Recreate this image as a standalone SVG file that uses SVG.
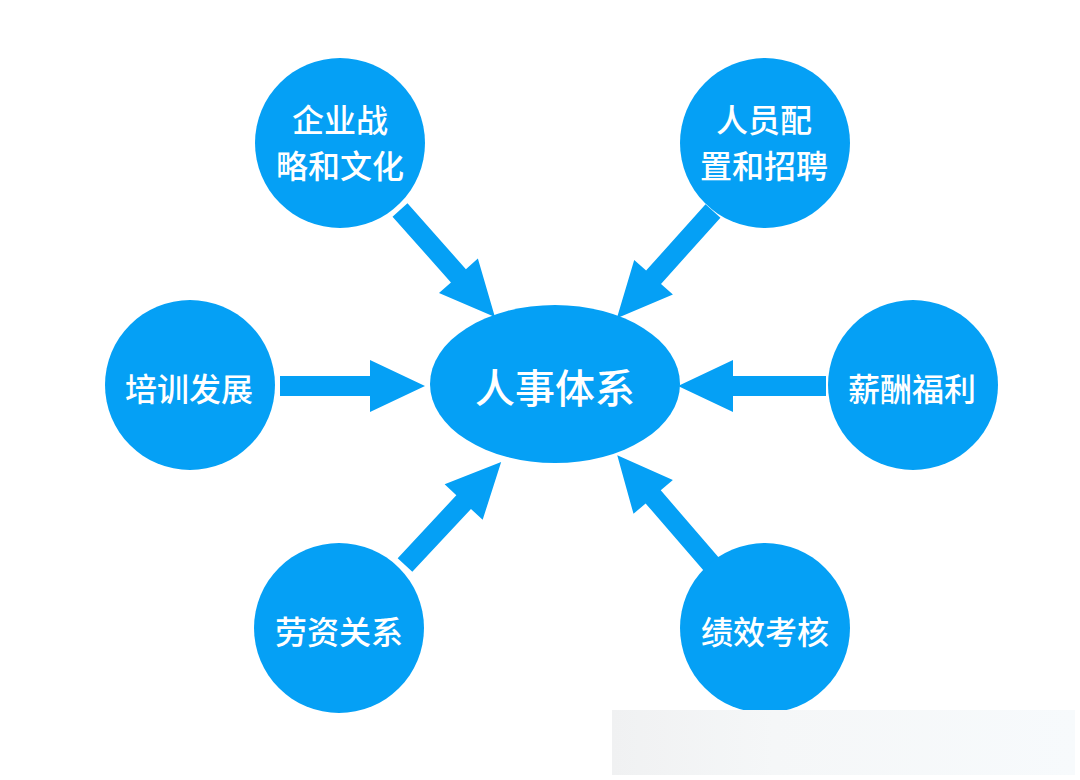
<svg xmlns="http://www.w3.org/2000/svg" width="1080" height="780" viewBox="0 0 1080 780">
<defs>
<style>
.node{fill:#05a0f5;}
.arrow{fill:#05a0f5;}
.t{font-family:"Noto Sans CJK SC","Noto Sans",sans-serif;font-weight:500;fill:#ffffff;text-anchor:middle;dominant-baseline:central;}
.s{font-size:32px;}
.c{font-size:40px;}
</style>
<linearGradient id="wm" x1="0" y1="0" x2="1" y2="0">
<stop offset="0" stop-color="#f0f1f2"/>
<stop offset="0.35" stop-color="#f5f7f8"/>
<stop offset="1" stop-color="#f7fafc"/>
</linearGradient>
</defs>
<rect width="1080" height="780" fill="#ffffff"/>
<g id="connectors">
<path class="arrow" transform="translate(400,210) rotate(48.4)" d="M0,-10 H88 V-26 L143,0 L88,26 V10 H0 Z"/>
<path class="arrow" transform="translate(713,211) rotate(131.9)" d="M0,-10 H89 V-26 L144,0 L89,26 V10 H0 Z"/>
<path class="arrow" transform="translate(280,386)" d="M0,-10 H90 V-26 L145,0 L90,26 V10 H0 Z"/>
<path class="arrow" transform="translate(826,386) rotate(180)" d="M0,-10 H93 V-26 L148,0 L93,26 V10 H0 Z"/>
<path class="arrow" transform="translate(405,565) rotate(-47)" d="M0,-10 H86 V-26 L141,0 L86,26 V10 H0 Z"/>
<path class="arrow" transform="translate(712,565) rotate(-130.8)" d="M0,-10 H90 V-26 L145,0 L90,26 V10 H0 Z"/>
</g>
<g id="center">
<ellipse class="node" cx="555" cy="384" rx="125" ry="79"/>
<text class="t c" x="555" y="386">人事体系</text>
</g>
<g id="strategy">
<circle class="node" cx="340" cy="143" r="85"/>
<text class="t s" x="340" y="118">企业战</text>
<text class="t s" x="340" y="164">略和文化</text>
</g>
<g id="staffing">
<circle class="node" cx="765" cy="143" r="85"/>
<text class="t s" x="764" y="118">人员配</text>
<text class="t s" x="764" y="164">置和招聘</text>
</g>
<g id="training">
<circle class="node" cx="190" cy="385" r="85"/>
<text class="t s" x="189" y="387">培训发展</text>
</g>
<g id="compensation">
<circle class="node" cx="913" cy="385" r="85"/>
<text class="t s" x="912" y="387">薪酬福利</text>
</g>
<g id="labor">
<circle class="node" cx="339" cy="628" r="85"/>
<text class="t s" x="339" y="630">劳资关系</text>
</g>
<g id="performance">
<circle class="node" cx="765" cy="628" r="85"/>
<text class="t s" x="765" y="630">绩效考核</text>
</g>
<rect x="612" y="710" width="463" height="65" fill="url(#wm)"/>
</svg>
